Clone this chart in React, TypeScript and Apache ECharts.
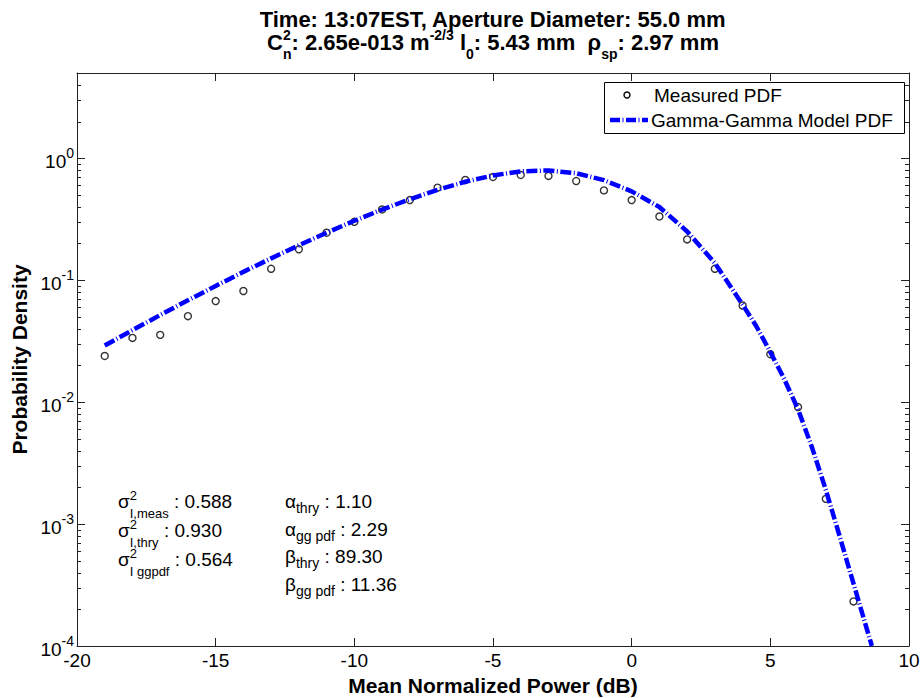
import React, { useEffect, useRef } from "react";
import * as echarts from "echarts";

// ---- data ----
const measuredX = [-19, -18, -17, -16, -15, -14, -13, -12, -11, -10, -9, -8, -7, -6, -5, -4, -3, -2, -1, 0, 1, 2, 3, 4, 5, 6, 7, 8];
const measuredY = [0.0239, 0.0336, 0.0356, 0.0507, 0.0674, 0.0815, 0.124, 0.179, 0.245, 0.301, 0.38, 0.454, 0.574, 0.663, 0.702, 0.729, 0.716, 0.65, 0.545, 0.454, 0.333, 0.216, 0.124, 0.062, 0.0247, 0.0091, 0.00161, 0.000232];

const modelX = [-19, -18, -17, -16, -15, -14, -13, -12, -11, -10, -9, -8, -7, -6, -5, -4, -3, -2, -1, 0, 1, 2, 3, 4, 4.5, 5, 5.5, 6, 6.5, 7, 7.5, 8, 8.66];
const modelY = [0.0291, 0.0389, 0.0518, 0.0684, 0.0897, 0.117, 0.151, 0.193, 0.245, 0.307, 0.379, 0.461, 0.551, 0.641, 0.723, 0.78, 0.794, 0.753, 0.661, 0.535, 0.398, 0.251, 0.138, 0.0631, 0.0417, 0.0257, 0.0155, 0.00871, 0.00427, 0.00191, 0.000794, 0.000324, 0.0001];

const xTicks = { min: -20, max: 10, interval: 5 };
const yRange = { min: 1e-4, max: 5 };
const minorMultipliers = [2, 3, 4, 5, 6, 7, 8, 9];
const decades = [-4, -3, -2, -1, 0];

const seriesNames = ["Measured PDF", "Gamma-Gamma Model PDF"];
const titleLine1 = "Time: 13:07EST, Aperture Diameter: 55.0 mm";
const xName = "Mean Normalized Power (dB)";
const yName = "Probability Density";

const FONT = '"Liberation Sans", Arial, Helvetica, sans-serif';

type Seg = { t: string; k?: "sup" | "sub" };

const canvas = typeof document !== "undefined" ? document.createElement("canvas") : null;
const ctx = canvas ? canvas.getContext("2d") : null;
function tw(text: string, size: number, bold: boolean) {
  if (!ctx) return text.length * size * 0.55;
  ctx.font = `${bold ? "bold " : ""}${size}px ${FONT}`;
  return ctx.measureText(text).width;
}

function mathText(
  segs: Seg[],
  o: { x?: number; cx?: number; base: number; size: number; small: number; bold: boolean; raise: number; drop: number }
) {
  const items: { t: string; x: number; size: number; dy: number }[] = [];
  let pos = 0;
  let i = 0;
  while (i < segs.length) {
    const s = segs[i];
    if (!s.k) {
      items.push({ t: s.t, x: pos, size: o.size, dy: 0 });
      pos += tw(s.t, o.size, o.bold);
      i++;
    } else {
      let w = 0;
      while (i < segs.length && segs[i].k) {
        const q = segs[i];
        items.push({ t: q.t, x: pos, size: o.small, dy: q.k === "sup" ? -o.raise : o.drop });
        w = Math.max(w, tw(q.t, o.small, o.bold));
        i++;
      }
      pos += w;
    }
  }
  const x0 = o.cx !== undefined ? o.cx - pos / 2 : (o.x as number);
  return items.map((it) => ({
    type: "text",
    x: x0 + it.x,
    y: o.base + it.dy - 0.347 * it.size,
    silent: true,
    z: 10,
    style: {
      text: it.t,
      fill: "#000",
      font: `${o.bold ? "bold " : ""}${it.size}px ${FONT}`,
      textAlign: "left",
      textVerticalAlign: "middle",
      align: "left",
      verticalAlign: "middle",
    },
  }));
}

export default function App() {
  const ref = useRef<HTMLDivElement>(null);
  useEffect(() => {
    if (!ref.current) return;
    const chart = echarts.init(ref.current, undefined, { renderer: "svg" });

    const minorTicks: number[][] = [];
    decades.forEach((d) => {
      minorMultipliers.forEach((m) => {
        const v = m * Math.pow(10, d);
        if (v > yRange.min && v < yRange.max) minorTicks.push([xTicks.min, v]);
      });
    });

    const GL = 77, GR = 909, GT = 73, GB = 646;

    const graphics: any[] = [];
    // title
    graphics.push(
      ...mathText([{ t: titleLine1 }], { cx: (GL + GR) / 2, base: 27, size: 22, small: 14, bold: true, raise: 13, drop: 10 })
    );
    graphics.push(
      ...mathText(
        [
          { t: "C" },
          { t: "n", k: "sub" },
          { t: "2", k: "sup" },
          { t: ": 2.65e-013 m" },
          { t: "-2/3", k: "sup" },
          { t: " l" },
          { t: "0", k: "sub" },
          { t: ": 5.43 mm  \u03c1" },
          { t: "sp", k: "sub" },
          { t: ": 2.97 mm" },
        ],
        { cx: (GL + GR) / 2, base: 50, size: 22, small: 14, bold: true, raise: 10, drop: 9 }
      )
    );
    // annotations left column
    const sigmaRows: Seg[][] = [
      [{ t: "\u03c3" }, { t: "2", k: "sup" }, { t: "I,meas", k: "sub" }, { t: " : 0.588" }],
      [{ t: "\u03c3" }, { t: "2", k: "sup" }, { t: "I,thry", k: "sub" }, { t: " : 0.930" }],
      [{ t: "\u03c3" }, { t: "2", k: "sup" }, { t: "I ggpdf", k: "sub" }, { t: " : 0.564" }],
    ];
    const sigmaBase = [508, 537, 566];
    sigmaRows.forEach((r, i) =>
      graphics.push(...mathText(r, { x: 118, base: sigmaBase[i], size: 19, small: 13, bold: false, raise: 8, drop: 10 }))
    );
    const abRows: Seg[][] = [
      [{ t: "\u03b1" }, { t: "thry", k: "sub" }, { t: " : 1.10" }],
      [{ t: "\u03b1" }, { t: "gg pdf", k: "sub" }, { t: " : 2.29" }],
      [{ t: "\u03b2" }, { t: "thry", k: "sub" }, { t: " : 89.30" }],
      [{ t: "\u03b2" }, { t: "gg pdf", k: "sub" }, { t: " : 11.36" }],
    ];
    const abBase = [508, 536, 563, 591];
    abRows.forEach((r, i) =>
      graphics.push(...mathText(r, { x: 285, base: abBase[i], size: 19, small: 14, bold: false, raise: 7, drop: 5 }))
    );
    // legend
    graphics.push({
      type: "rect",
      shape: { x: 604.5, y: 82.5, width: 300, height: 51 },
      style: { fill: "#fff", stroke: "#000", lineWidth: 1 },
      z: 9,
      silent: true,
    });
    graphics.push({
      type: "circle",
      shape: { cx: 627, cy: 95, r: 3 },
      style: { fill: "none", stroke: "#000", lineWidth: 1.4 },
      z: 10,
      silent: true,
    });
    graphics.push({
      type: "line",
      shape: { x1: 610, y1: 120, x2: 648, y2: 120 },
      style: { stroke: "#0000ff", lineWidth: 4.5, lineDash: [10, 2.5, 1, 2.5] },
      z: 10,
      silent: true,
    });
    graphics.push(...mathText([{ t: seriesNames[0] }], { x: 654, base: 102, size: 19, small: 14, bold: false, raise: 7, drop: 5 }));
    graphics.push(...mathText([{ t: seriesNames[1] }], { x: 651, base: 127, size: 19, small: 14, bold: false, raise: 7, drop: 5 }));

    const axisLineStyle = { color: "#222", width: 1 };
    const yFormatter = (v: number) => {
      const l = Math.log10(v);
      const e = Math.round(l);
      if (Math.abs(l - e) > 1e-6) return "";
      return `{b|10}{s|${e}}`;
    };

    chart.setOption({
      animation: false,
      backgroundColor: "#fff",
      textStyle: { fontFamily: FONT },
      grid: {
        left: GL,
        right: 924 - GR,
        top: GT,
        bottom: 698 - GB,
        containLabel: false,
        outerBoundsMode: "none",
      },
      xAxis: [
        {
          type: "value",
          position: "bottom",
          min: xTicks.min,
          max: xTicks.max,
          interval: xTicks.interval,
          name: xName,
          nameLocation: "middle",
          nameGap: 27,
          nameTextStyle: { fontSize: 21, fontWeight: "bold", color: "#000", fontFamily: FONT },
          axisLine: { show: true, onZero: false, lineStyle: axisLineStyle },
          axisTick: { show: true, inside: true, length: 8, lineStyle: axisLineStyle },
          axisLabel: { show: true, margin: 5, fontSize: 19, color: "#000", fontFamily: FONT },
          splitLine: { show: false },
        },
        {
          type: "value",
          position: "top",
          min: xTicks.min,
          max: xTicks.max,
          interval: xTicks.interval,
          axisLine: { show: true, onZero: false, lineStyle: axisLineStyle },
          axisTick: { show: true, inside: true, length: 8, lineStyle: axisLineStyle },
          axisLabel: { show: false },
          splitLine: { show: false },
        },
      ],
      yAxis: [
        {
          type: "log",
          logBase: 10,
          position: "left",
          min: yRange.min,
          max: yRange.max,
          name: yName,
          nameLocation: "middle",
          nameGap: 44,
          nameTextStyle: { fontSize: 21, fontWeight: "bold", color: "#000", fontFamily: FONT },
          axisLine: { show: true, onZero: false, lineStyle: axisLineStyle },
          axisTick: { show: true, inside: true, length: 8, lineStyle: axisLineStyle },
          axisLabel: {
            show: true,
            margin: 3,
            formatter: yFormatter,
            color: "#000",
            rich: {
              b: { fontSize: 19, fontFamily: FONT, color: "#000", lineHeight: 25, verticalAlign: "bottom" },
              s: { fontSize: 14, fontFamily: FONT, color: "#000", lineHeight: 14, verticalAlign: "top" },
            },
          },
          splitLine: { show: false },
        },
        {
          type: "log",
          logBase: 10,
          position: "right",
          min: yRange.min,
          max: yRange.max,
          axisLine: { show: true, onZero: false, lineStyle: axisLineStyle },
          axisTick: { show: true, inside: true, length: 8, lineStyle: axisLineStyle },
          axisLabel: { show: false },
          splitLine: { show: false },
        },
      ],
      graphic: graphics,
      series: [
        {
          name: "minorTicks",
          type: "custom",
          xAxisIndex: 0,
          yAxisIndex: 0,
          silent: true,
          clip: false,
          z: 1,
          data: minorTicks,
          renderItem: (params: any, api: any) => {
            const v = api.value(1);
            const pL = api.coord([xTicks.min, v]);
            const pR = api.coord([xTicks.max, v]);
            const y = Math.round(pL[1]) + 0.5;
            return {
              type: "group",
              children: [
                { type: "line", shape: { x1: pL[0], y1: y, x2: pL[0] + 4, y2: y }, style: { stroke: "#222", lineWidth: 1 } },
                { type: "line", shape: { x1: pR[0] - 4, y1: y, x2: pR[0], y2: y }, style: { stroke: "#222", lineWidth: 1 } },
              ],
            };
          },
        },
        {
          name: seriesNames[0],
          type: "scatter",
          xAxisIndex: 0,
          yAxisIndex: 0,
          symbol: "circle",
          symbolSize: 7,
          z: 2,
          itemStyle: { color: "rgba(255,255,255,0)", borderColor: "#000", borderWidth: 1.4 },
          data: measuredX.map((x, i) => [x, measuredY[i]]),
        },
        {
          name: seriesNames[1],
          type: "line",
          xAxisIndex: 0,
          yAxisIndex: 0,
          showSymbol: false,
          symbol: "none",
          smooth: false,
          z: 3,
          lineStyle: { color: "#0000ff", width: 4.5, type: [11, 2.5, 1, 2.5], cap: "butt" },
          data: modelX.map((x, i) => [x, modelY[i]]),
        },
      ],
    });
    return () => chart.dispose();
  }, []);
  return <div ref={ref} style={{ position: "absolute", left: 0, top: 0, width: 924, height: 698 }} />;
}
